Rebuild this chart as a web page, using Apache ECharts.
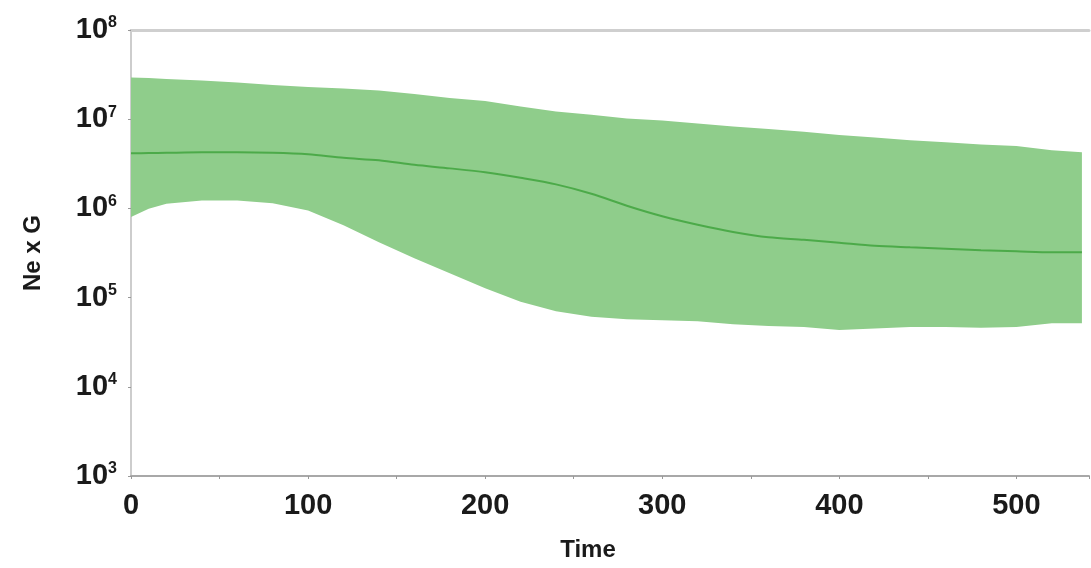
<!DOCTYPE html>
<html>
<head>
<meta charset="utf-8">
<script src="https://cdn.jsdelivr.net/npm/echarts@6/dist/echarts.min.js"></script>
<style>
  html, body { margin: 0; padding: 0; background: #fff; }
  #chart { width: 1091px; height: 568px; }
</style>
</head>
<body>
<div id="chart"></div>
<script>
// time points (x) and the skyline curves
var times = [0, 10, 20, 40, 60, 80, 100, 120, 140, 160, 180, 200, 220, 240, 260,
  280, 300, 320, 340, 360, 380, 400, 420, 440, 460, 480, 500, 520, 537];
var upper = [2.94e7, 2.9e7, 2.82e7, 2.72e7, 2.58e7, 2.42e7, 2.3e7, 2.21e7, 2.1e7,
  1.92e7, 1.73e7, 1.6e7, 1.39e7, 1.22e7, 1.12e7, 1.02e7, 9.7e6, 8.97e6, 8.3e6,
  7.78e6, 7.21e6, 6.67e6, 6.25e6, 5.79e6, 5.5e6, 5.22e6, 5.02e6, 4.48e6, 4.25e6];
var median = [4.14e6, 4.17e6, 4.2e6, 4.25e6, 4.25e6, 4.2e6, 4.04e6, 3.69e6, 3.46e6,
  3.08e6, 2.81e6, 2.54e6, 2.2e6, 1.86e6, 1.46e6, 1.07e6, 8.16e5, 6.55e5, 5.44e5,
  4.74e5, 4.45e5, 4.12e5, 3.81e5, 3.66e5, 3.53e5, 3.4e5, 3.31e5, 3.22e5, 3.22e5];
var lower = [8.02e5, 9.9e5, 1.13e6, 1.23e6, 1.23e6, 1.14e6, 9.5e5, 6.47e5, 4.17e5,
  2.76e5, 1.88e5, 1.27e5, 9.0e4, 7.05e4, 6.11e4, 5.73e4, 5.58e4, 5.44e4, 5.04e4,
  4.79e4, 4.67e4, 4.32e4, 4.49e4, 4.67e4, 4.67e4, 4.6e4, 4.67e4, 5.16e4, 5.16e4];
var xTicks = [0, 100, 200, 300, 400, 500];

var font = '"Liberation Sans", Arial, sans-serif';

var chart = echarts.init(document.getElementById('chart'));

// band data: [time, lower, upper]
var bandData = times.map(function (t, i) { return [t, lower[i], upper[i]]; });

// draw the whole credible band as one polygon
function renderBand(params, api) {
  if (params.dataIndex !== 0) return null;
  var pts = [];
  for (var i = 0; i < times.length; i++) pts.push(api.coord([times[i], upper[i]]));
  for (var j = times.length - 1; j >= 0; j--) pts.push(api.coord([times[j], lower[j]]));
  return {
    type: 'polygon',
    shape: { points: pts },
    style: { fill: '#8fcd8b', stroke: null }
  };
}

var option = {
  animation: false,
  backgroundColor: '#fff',
  grid: { left: 131, right: 2, top: 30, bottom: 92 },
  xAxis: [{
    type: 'value',
    min: 0,
    max: 541,
    interval: 100,
    name: 'Time',
    nameLocation: 'middle',
    nameGap: 62,
    nameTextStyle: { fontFamily: font, fontWeight: 'bold', fontSize: 24, color: '#1a1a1a', padding: [0, 44, 0, 0] },
    axisLine: { show: true, lineStyle: { color: '#a8a8a8', width: 2 } },
    axisTick: { show: true, length: 3, lineStyle: { color: '#999' } },
    minorTick: { show: true, splitNumber: 2, length: 3, lineStyle: { color: '#999' } },
    splitLine: { show: false },
    axisLabel: {
      margin: 15,
      fontFamily: font, fontWeight: 'bold', fontSize: 29, color: '#1a1a1a',
      showMaxLabel: false,
      formatter: function (v) { return xTicks.indexOf(v) >= 0 ? String(v) : ''; }
    }
  }, {
    type: 'value',
    position: 'top',
    min: 0,
    max: 541,
    axisLine: { show: true, lineStyle: { color: '#cfcfcf', width: 3 } },
    axisTick: { show: false },
    axisLabel: { show: false },
    splitLine: { show: false }
  }],
  yAxis: [{
    type: 'log',
    logBase: 10,
    min: 1e3,
    max: 1e8,
    name: 'Ne x G',
    nameLocation: 'middle',
    nameGap: 86,
    nameRotate: 90,
    nameTextStyle: { fontFamily: font, fontWeight: 'bold', fontSize: 24, color: '#1a1a1a' },
    axisLine: { show: true, lineStyle: { color: '#a0a0a0', width: 2 } },
    axisTick: { show: true, length: 3, lineStyle: { color: '#999' } },
    splitLine: { show: false },
    axisLabel: {
      margin: 14,
      formatter: function (v) {
        var e = Math.round(Math.log(v) / Math.LN10);
        return '{b|10}{s|' + e + '}';
      },
      rich: {
        b: { fontFamily: font, fontWeight: 'bold', fontSize: 29, color: '#1a1a1a' },
        s: { fontFamily: font, fontWeight: 'bold', fontSize: 16, color: '#1a1a1a', padding: [0, 0, 14, 0] }
      }
    }
  }, {
    type: 'log',
    logBase: 10,
    position: 'right',
    min: 1e3,
    max: 1e8,
    axisLine: { show: true, lineStyle: { color: '#dcdcdc', width: 1.5 } },
    axisTick: { show: false },
    axisLabel: { show: false },
    splitLine: { show: false }
  }],
  series: [{
    type: 'custom',
    renderItem: renderBand,
    data: bandData,
    encode: { x: 0, y: [1, 2] },
    clip: true,
    z: 1
  }, {
    type: 'line',
    data: times.map(function (t, i) { return [t, median[i]]; }),
    showSymbol: false,
    smooth: 0.3,
    lineStyle: { color: '#4caa49', width: 2 },
    z: 3
  }]
};

chart.setOption(option);
</script>
</body>
</html>
